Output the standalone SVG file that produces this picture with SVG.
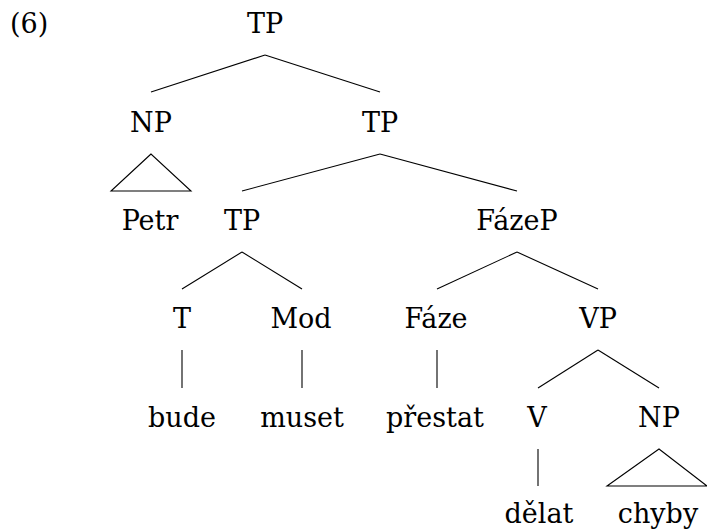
<svg xmlns="http://www.w3.org/2000/svg" width="707" height="531" viewBox="0 0 707 531">
<style>
text{font-family:"DejaVu Serif","Liberation Serif",serif;font-size:27px;fill:#000;text-anchor:middle}
.c line,.c polygon{stroke:#000;stroke-width:1.1;fill:none}
</style>
<rect width="707" height="531" fill="#fff"/>
<text x="10" y="33" style="text-anchor:start">(6)</text>
<g class="c" id="connectors">
<line x1="265" y1="55" x2="151" y2="92"/>
<line x1="265" y1="55" x2="380" y2="92"/>
<polygon points="151,154 111,191 191,191"/>
<line x1="380" y1="154" x2="242" y2="191"/>
<line x1="380" y1="154" x2="517" y2="191"/>
<line x1="242" y1="252" x2="182" y2="289"/>
<line x1="242" y1="252" x2="302" y2="289"/>
<line x1="182" y1="350" x2="182" y2="388"/>
<line x1="302" y1="350" x2="302" y2="388"/>
<line x1="517" y1="252" x2="437" y2="289"/>
<line x1="517" y1="252" x2="598" y2="289"/>
<line x1="437" y1="350" x2="437" y2="388"/>
<line x1="598" y1="350" x2="538" y2="388"/>
<line x1="598" y1="350" x2="659" y2="388"/>
<line x1="538" y1="449" x2="538" y2="486"/>
<polygon points="659,449 607,486 707,486"/>
</g>
<g id="tp1"><text x="265" y="33">TP</text></g>
<g id="np1"><text x="151" y="132">NP</text></g>
<g id="petr"><text x="150" y="230">Petr</text></g>
<g id="tp2"><text x="380" y="132">TP</text></g>
<g id="tp3"><text x="242" y="230">TP</text></g>
<g id="fazep"><text x="517" y="230">FázeP</text></g>
<g id="t"><text x="182" y="328">T</text></g>
<g id="mod"><text x="301" y="328">Mod</text></g>
<g id="faze"><text x="436" y="328">Fáze</text></g>
<g id="vp"><text x="598" y="328">VP</text></g>
<g id="bude"><text x="182" y="427">bude</text></g>
<g id="muset"><text x="302" y="427">muset</text></g>
<g id="prestat"><text x="435" y="427">přestat</text></g>
<g id="v"><text x="537" y="427">V</text></g>
<g id="np2"><text x="659" y="427">NP</text></g>
<g id="delat"><text x="539" y="523">dělat</text></g>
<g id="chyby"><text x="658" y="523">chyby</text></g>
</svg>
